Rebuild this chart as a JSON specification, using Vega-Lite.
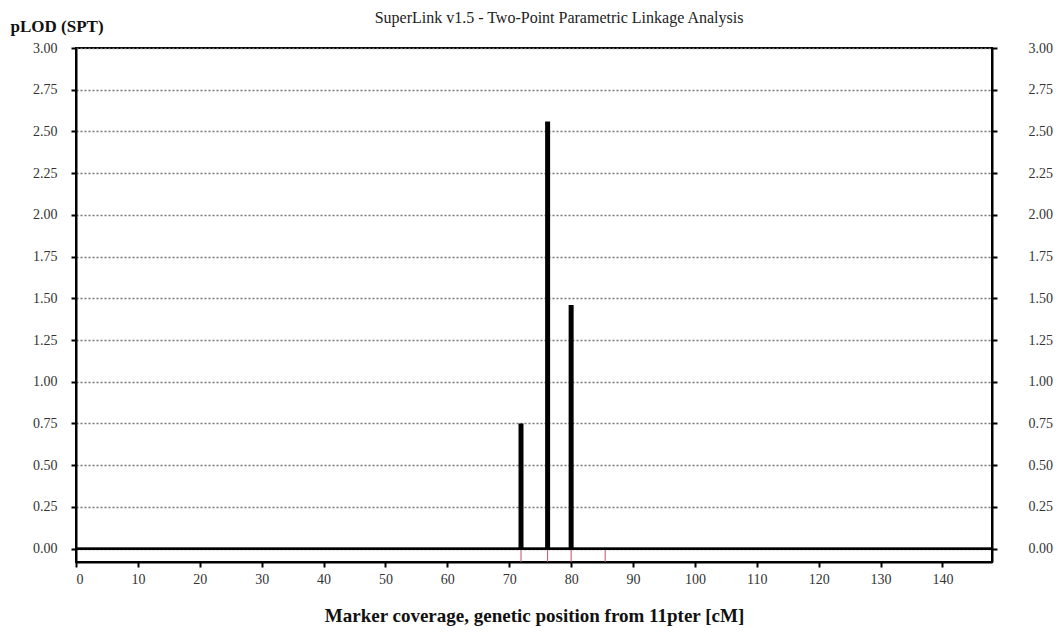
{
  "$schema": "https://vega.github.io/schema/vega-lite/v6.json",
  "autosize": "none",
  "width": 916,
  "height": 514,
  "padding": {"left": 76, "top": 48, "right": 70, "bottom": 72},
  "background": "white",
  "config": {
    "view": {"stroke": "black", "strokeWidth": 2},
    "font": "Liberation Serif"
  },
  "title": {
    "text": "SuperLink v1.5 - Two-Point Parametric Linkage Analysis",
    "font": "Liberation Serif",
    "fontSize": 16,
    "fontWeight": "normal",
    "color": "#222",
    "anchor": "middle",
    "offset": 1,
    "dx": 25,
    "dy": 10
  },
  "data": {
    "values": [
      {"pos": 71.9, "lod": 0.75},
      {"pos": 76.2, "lod": 2.56},
      {"pos": 80.0, "lod": 1.46},
      {"pos": 85.5, "lod": 0}
    ]
  },
  "resolve": {"axis": {"y": "independent"}},
  "layer": [
    {
      "mark": {"type": "rule", "color": "#cc4d66", "strokeWidth": 1},
      "encoding": {
        "x": {
          "field": "pos", "type": "quantitative",
          "scale": {"domain": [0, 148], "nice": false, "zero": false},
          "axis": {
            "values": [0, 10, 20, 30, 40, 50, 60, 70, 80, 90, 100, 110, 120, 130, 140],
            "title": "Marker coverage, genetic position from 11pter [cM]",
            "titleFont": "Liberation Serif",
            "titleFontSize": 19,
            "titleFontWeight": "bold",
            "titleColor": "#111",
            "titlePadding": 20,
            "labelFont": "Liberation Serif",
            "labelFontSize": 14,
            "labelColor": "#333",
            "labelPadding": 5,
            "tickColor": "black",
            "tickWidth": 2,
            "tickSize": 5,
            "domainColor": "black",
            "domainWidth": 2,
            "grid": false
          }
        },
        "y": {
          "datum": 0, "type": "quantitative",
          "scale": {"domain": [-0.08, 3], "nice": false, "zero": false},
          "axis": {
            "orient": "left",
            "values": [0, 0.25, 0.5, 0.75, 1, 1.25, 1.5, 1.75, 2, 2.25, 2.5, 2.75, 3],
            "format": ".2f",
            "title": "pLOD (SPT)",
            "titleAngle": 0,
            "titleAlign": "left",
            "titleBaseline": "alphabetic",
            "titleX": -66,
            "titleY": -17,
            "titleFont": "Liberation Serif",
            "titleFontSize": 17,
            "titleFontWeight": "bold",
            "titleColor": "#111",
            "labelFont": "Liberation Serif",
            "labelFontSize": 14,
            "labelColor": "#333",
            "labelPadding": 14,
            "tickColor": "black",
            "tickWidth": 2,
            "tickSize": 5,
            "domainColor": "black",
            "domainWidth": 2,
            "grid": true,
            "gridColor": "#777",
            "gridDash": [2, 2],
            "gridWidth": 1.5
          }
        },
        "y2": {"datum": -0.08}
      }
    },
    {
      "mark": {"type": "rule", "color": "black", "strokeWidth": 2},
      "encoding": {
        "y": {
          "datum": 0, "type": "quantitative",
          "axis": {
            "orient": "right",
            "values": [0, 0.25, 0.5, 0.75, 1, 1.25, 1.5, 1.75, 2, 2.25, 2.5, 2.75, 3],
            "format": ".2f",
            "title": null,
            "labelFont": "Liberation Serif",
            "labelFontSize": 14,
            "labelColor": "#333",
            "labelPadding": 31,
            "tickColor": "black",
            "tickWidth": 2,
            "tickSize": 5,
            "domainColor": "black",
            "domainWidth": 2,
            "grid": false
          }
        }
      }
    },
    {
      "transform": [{"filter": "datum.lod > 0"}],
      "mark": {"type": "rule", "color": "black", "strokeWidth": 5},
      "encoding": {
        "x": {"field": "pos", "type": "quantitative"},
        "y": {"field": "lod", "type": "quantitative", "axis": null},
        "y2": {"datum": 0}
      }
    }
  ]
}
